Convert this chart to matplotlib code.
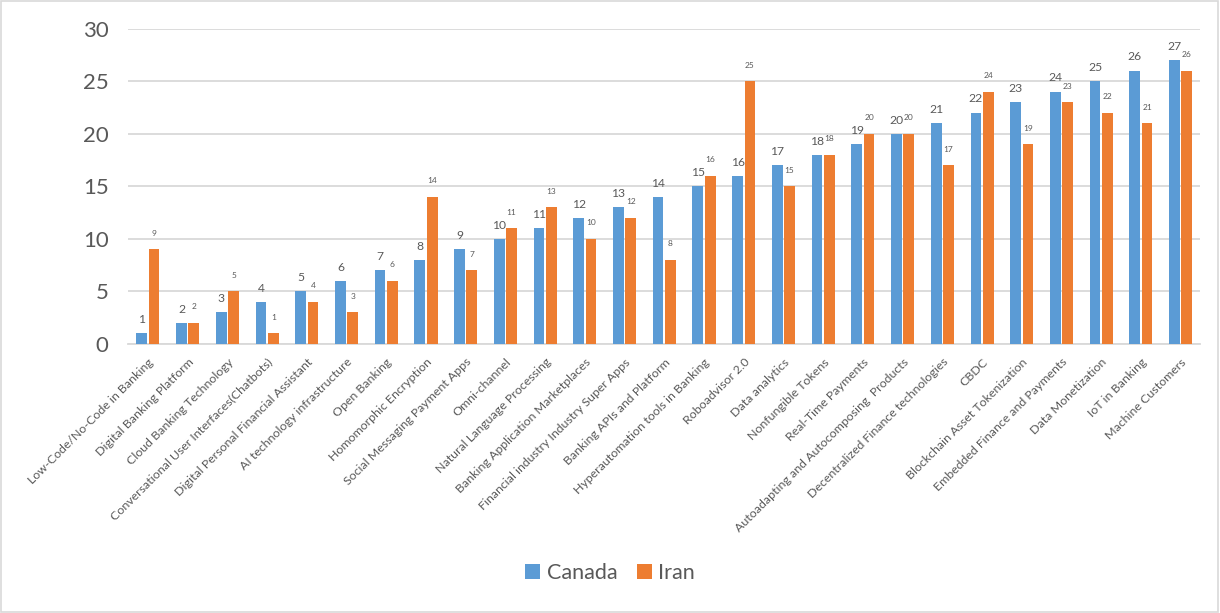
import matplotlib.pyplot as plt
import numpy as np
from matplotlib.patches import Rectangle

categories = [
    "Low-Code/No-Code in Banking", "Digital Banking Platform", "Cloud Banking Technology",
    "Conversational User Interfaces(Chatbots)", "Digital Personal Financial Assistant",
    "AI technology infrastructure", "Open Banking", "Homomorphic Encryption",
    "Social Messaging Payment Apps", "Omni-channel", "Natural Language Processing",
    "Banking Application Marketplaces", "Financial industry Industry Super Apps",
    "Banking APIs and Platform", "Hyperautomation tools in Banking", "Roboadvisor 2.0",
    "Data analytics", "Nonfungible Tokens", "Real-Time Payments",
    "Autoadapting and Autocomposing  Products", "Decentralized Finance technologies",
    "CBDC", "Blockchain Asset Tokenization", "Embedded Finance and Payments",
    "Data Monetization", "IoT in Banking", "Machine Customers",
]
canada = [1, 2, 3, 4, 5, 6, 7, 8, 9, 10, 11, 12, 13, 14, 15, 16, 17, 18, 19, 20,
          21, 22, 23, 24, 25, 26, 27]
iran = [9, 2, 5, 1, 4, 3, 6, 14, 7, 11, 13, 10, 12, 8, 16, 25, 15, 18, 20, 20,
        17, 24, 19, 23, 22, 21, 26]
y_ticks = [0, 5, 10, 15, 20, 25, 30]

plt.rcParams['font.family'] = ['Lato', 'DejaVu Sans']
text_color = "#595959"
blue = "#5B9BD5"
orange = "#ED7D31"

fig = plt.figure(figsize=(12.2, 6.13), dpi=100)
fig.patches.append(Rectangle((0.001, 0.002), 0.997, 0.996, transform=fig.transFigure,
                             fill=False, edgecolor="#D9D9D9", linewidth=1.2))
ax = fig.add_axes([0.105, 0.439, 0.879, 0.514])

x = np.arange(len(categories))
w = 0.27
off = 0.155
b1 = ax.bar(x - off, canada, w, color=blue, label="Canada", zorder=3)
b2 = ax.bar(x + off, iran, w, color=orange, label="Iran", zorder=3)

for xi, v in zip(x, canada):
    ax.annotate(str(v), (xi - off, v), xytext=(0, 6), textcoords="offset points",
                ha="center", va="bottom", fontsize=8.7, color=text_color)
for xi, v in zip(x, iran):
    ax.annotate(str(v), (xi + off, v), xytext=(0, 9), textcoords="offset points",
                ha="center", va="bottom", fontsize=6, color=text_color)

ax.set_ylim(0, 30)
ax.set_xlim(-0.5, len(categories) - 0.5)
ax.set_yticks(y_ticks)
ax.tick_params(axis="y", length=0, labelsize=16, labelcolor=text_color, pad=14)
ax.yaxis.grid(True, color="#D9D9D9", linewidth=1.3, zorder=0)
ax.set_axisbelow(True)
for s in ["top", "right", "left"]:
    ax.spines[s].set_visible(False)
ax.spines["bottom"].set_color("#D9D9D9")
ax.spines["bottom"].set_linewidth(1.3)

ax.set_xticks(x)
ax.set_xticklabels(categories, rotation=45, ha="right", rotation_mode="anchor",
                   fontsize=8.9, color=text_color)
ax.tick_params(axis="x", length=0, pad=9)

fig.legend(handles=[b1, b2], loc="center", bbox_to_anchor=(0.5, 0.065), ncol=2,
           frameon=False, fontsize=15.5, labelcolor=text_color, handlelength=0.7,
           handleheight=0.7, handletextpad=0.3, columnspacing=0.9)

fig.savefig("out.png", dpi=100)
